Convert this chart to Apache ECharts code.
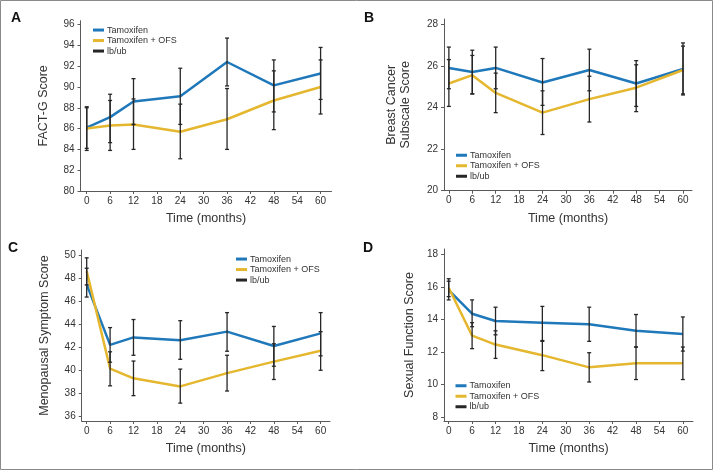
<!DOCTYPE html>
<html>
<head>
<meta charset="utf-8">
<script src="https://cdn.jsdelivr.net/npm/echarts@6/dist/echarts.min.js"></script>
<style>html,body{margin:0;padding:0;background:#fff}#c{width:714px;height:471px}</style>
</head>
<body>
<div id="c"></div>
<script>
// ---- data ----
const months = [0, 6, 12, 24, 36, 48, 60];
const xTicks = [0, 6, 12, 18, 24, 30, 36, 42, 48, 54, 60];
const seriesNames = ['Tamoxifen', 'Tamoxifen + OFS', 'lb/ub'];

// Panel A: FACT-G
const aTam   = [86.1, 87.1, 88.6, 89.1, 92.4, 90.15, 91.3];
const aOfs   = [86.0, 86.3, 86.4, 85.7, 86.9, 88.7, 90.0];
const aTamLo = [84.1, 84.65, 86.4, 86.4, 90.1, 87.6, 88.8];
const aTamHi = [88.1, 89.3, 90.8, 91.8, 94.7, 92.6, 93.8];
const aOfsLo = [83.9, 83.9, 84.0, 83.1, 84.0, 85.9, 87.4];
const aOfsHi = [88.0, 88.7, 88.85, 88.35, 89.85, 91.55, 92.6];
const aYTicks = [80, 82, 84, 86, 88, 90, 92, 94, 96];

// Panel B: Breast Cancer Subscale
const bTam   = [25.9, 25.7, 25.9, 25.2, 25.8, 25.15, 25.85];
const bOfs   = [25.15, 25.55, 24.7, 23.75, 24.4, 24.95, 25.8];
const bTamLo = [24.9, 24.65, 24.9, 24.1, 24.8, 24.05, 24.65];
const bTamHi = [26.9, 26.75, 26.9, 26.35, 26.8, 26.25, 27.1];
const bOfsLo = [24.05, 24.65, 23.75, 22.7, 23.3, 23.8, 24.6];
const bOfsHi = [26.3, 26.5, 25.65, 24.8, 25.5, 26.05, 26.95];
const bYTicks = [20, 22, 24, 26, 28];

// Panel C: Menopausal Symptom
const cTam   = [47.45, 42.2, 42.85, 42.6, 43.35, 42.1, 43.2];
const cOfs   = [48.6, 40.15, 39.3, 38.6, 39.75, 40.75, 41.7];
const cTamLo = [46.35, 40.7, 41.3, 40.95, 41.65, 40.35, 41.25];
const cTamHi = [48.85, 43.7, 44.4, 44.3, 45.0, 43.8, 45.0];
const cOfsLo = [47.4, 38.65, 37.8, 37.15, 38.2, 39.2, 40.0];
const cOfsHi = [49.75, 41.6, 40.8, 40.1, 41.3, 42.3, 43.35];
const cYTicks = [36, 38, 40, 42, 44, 46, 48, 50];

// Panel D: Sexual Function
const dTam   = [15.8, 14.35, 13.9, 13.8, 13.7, 13.3, 13.1];
const dOfs   = [15.95, 13.0, 12.45, 11.8, 11.05, 11.3, 11.3];
const dTamLo = [15.2, 13.55, 13.05, 12.7, 12.65, 12.3, 12.05];
const dTamHi = [16.35, 15.2, 14.75, 14.8, 14.75, 14.3, 14.15];
const dOfsLo = [15.4, 12.2, 11.6, 10.85, 10.15, 10.3, 10.3];
const dOfsHi = [16.5, 13.8, 13.3, 12.65, 11.95, 12.3, 12.3];
const dYTicks = [8, 10, 12, 14, 16, 18];

// ---- layout / style ----
const BLUE = '#1f78b9';
const YELLOW = '#e5b72f';
const BAR = '#262626';
const AX = '#5a5a5a';
const FONT = '"Liberation Sans", Arial, sans-serif';

const panels = [
  { letter: 'A', lx: 11, ly: 11, grid: {left: 80.5, top: 20.7, width: 251, height: 170.3},
    xr: [-1.6, 62.8], yr: [80, 96.37], yt: aYTicks, yname: 'FACT-G Score', ygap: 30,
    tam: aTam, ofs: aOfs, tamLo: aTamLo, tamHi: aTamHi, ofsLo: aOfsLo, ofsHi: aOfsHi,
    legend: {left: 93, top: 24.8} },
  { letter: 'B', lx: 364, ly: 11, grid: {left: 444, top: 19, width: 248, height: 171.7},
    xr: [-1.25, 62.3], yr: [20, 28.25], yt: bYTicks, yname: 'Breast Cancer\nSubscale Score', ygap: 31,
    tam: bTam, ofs: bOfs, tamLo: bTamLo, tamHi: bTamHi, ofsLo: bOfsLo, ofsHi: bOfsHi,
    legend: {left: 456, top: 150} },
  { letter: 'C', lx: 8, ly: 241, grid: {left: 81.7, top: 250, width: 248.3, height: 171},
    xr: [-1.28, 62.4], yr: [35.6, 50.43], yt: cYTicks, yname: 'Menopausal Symptom Score', ygap: 30,
    tam: cTam, ofs: cOfs, tamLo: cTamLo, tamHi: cTamHi, ofsLo: cOfsLo, ofsHi: cOfsHi,
    legend: {left: 236, top: 253.8} },
  { letter: 'D', lx: 363, ly: 241, grid: {left: 444, top: 249, width: 249, height: 172},
    xr: [-1.2, 62.6], yr: [7.75, 18.33], yt: dYTicks, yname: 'Sexual Function Score', ygap: 27,
    tam: dTam, ofs: dOfs, tamLo: dTamLo, tamHi: dTamHi, ofsLo: dOfsLo, ofsHi: dOfsHi,
    legend: {left: 455.5, top: 380.5} }
];

function errRender(params, api) {
  const x = api.value(0);
  const lo = api.coord([x, api.value(1)]);
  const hi = api.coord([x, api.value(2)]);
  const w = 2;
  const st = {stroke: BAR, lineWidth: 1.3};
  return {
    type: 'group',
    children: [
      {type: 'line', shape: {x1: lo[0], y1: lo[1], x2: hi[0], y2: hi[1]}, style: st},
      {type: 'line', shape: {x1: lo[0] - w, y1: lo[1], x2: lo[0] + w, y2: lo[1]}, style: st},
      {type: 'line', shape: {x1: hi[0] - w, y1: hi[1], x2: hi[0] + w, y2: hi[1]}, style: st}
    ]
  };
}

const option = {
  animation: false,
  backgroundColor: '#fff',
  textStyle: {fontFamily: FONT},
  grid: [], xAxis: [], yAxis: [], series: [], legend: [],
  graphic: [
    {type: 'rect', shape: {x: 0.5, y: 0.5, width: 712, height: 469}, style: {fill: 'none', stroke: '#8a8a8a', lineWidth: 1}, z: 100}
  ]
};

panels.forEach((p, i) => {
  option.grid.push(Object.assign({containLabel: false}, p.grid));
  option.xAxis.push({
    type: 'value', gridIndex: i, min: p.xr[0], max: p.xr[1],
    name: 'Time (months)', nameLocation: 'middle', nameGap: 21,
    nameTextStyle: {fontSize: 12.5, color: '#333', fontFamily: FONT},
    axisLine: {show: true, onZero: false, lineStyle: {color: AX, width: 1}},
    axisTick: {show: true, length: 3, inside: false, customValues: xTicks, lineStyle: {color: AX}},
    axisLabel: {show: true, fontSize: 10, color: '#333', margin: 5, customValues: xTicks, fontFamily: FONT},
    splitLine: {show: false}
  });
  option.yAxis.push({
    type: 'value', gridIndex: i, min: p.yr[0], max: p.yr[1],
    name: p.yname, nameLocation: 'middle', nameGap: p.ygap,
    nameTextStyle: {fontSize: 12.5, color: '#333', lineHeight: 14.5, fontFamily: FONT},
    axisLine: {show: true, onZero: false, lineStyle: {color: AX, width: 1}},
    axisTick: {show: true, length: 3, inside: false, customValues: p.yt, lineStyle: {color: AX}},
    axisLabel: {show: true, fontSize: 10, color: '#333', margin: 6, customValues: p.yt, fontFamily: FONT},
    splitLine: {show: false}
  });
  option.series.push({
    name: 'Tamoxifen', type: 'line', xAxisIndex: i, yAxisIndex: i,
    data: months.map((m, k) => [m, p.tam[k]]), showSymbol: false, symbol: 'none',
    lineStyle: {color: BLUE, width: 2.5}, itemStyle: {color: BLUE}, z: 2
  });
  option.series.push({
    name: 'Tamoxifen + OFS', type: 'line', xAxisIndex: i, yAxisIndex: i,
    data: months.map((m, k) => [m, p.ofs[k]]), showSymbol: false, symbol: 'none',
    lineStyle: {color: YELLOW, width: 2.5}, itemStyle: {color: YELLOW}, z: 2
  });
  option.series.push({
    name: 'lb/ub', type: 'custom', xAxisIndex: i, yAxisIndex: i,
    renderItem: errRender, itemStyle: {color: BAR},
    encode: {x: 0, y: [1, 2]},
    data: months.map((m, k) => [m, p.tamLo[k], p.tamHi[k]]), z: 5
  });
  option.series.push({
    name: 'lb/ub', type: 'custom', xAxisIndex: i, yAxisIndex: i,
    renderItem: errRender, itemStyle: {color: BAR},
    encode: {x: 0, y: [1, 2]},
    data: months.map((m, k) => [m, p.ofsLo[k], p.ofsHi[k]]), z: 5
  });
  option.legend.push({
    orient: 'vertical', left: p.legend.left, top: p.legend.top, padding: 0,
    itemWidth: 11, itemHeight: 3, itemGap: 0, selectedMode: false,
    textStyle: {fontSize: 9, color: '#333', lineHeight: 10.5, fontFamily: FONT, padding: [0, 0, 0, -2]},
    data: [
      {name: 'Tamoxifen', icon: 'rect', itemStyle: {color: BLUE}},
      {name: 'Tamoxifen + OFS', icon: 'rect', itemStyle: {color: YELLOW}},
      {name: 'lb/ub', icon: 'rect', itemStyle: {color: BAR}}
    ]
  });
  option.graphic.push({
    type: 'text', left: p.lx, top: p.ly,
    style: {text: p.letter, font: 'bold 14px ' + FONT, fill: '#111'}
  });
});

const chart = echarts.init(document.getElementById('c'), null, {renderer: 'canvas'});
chart.setOption(option);
</script>
</body>
</html>
